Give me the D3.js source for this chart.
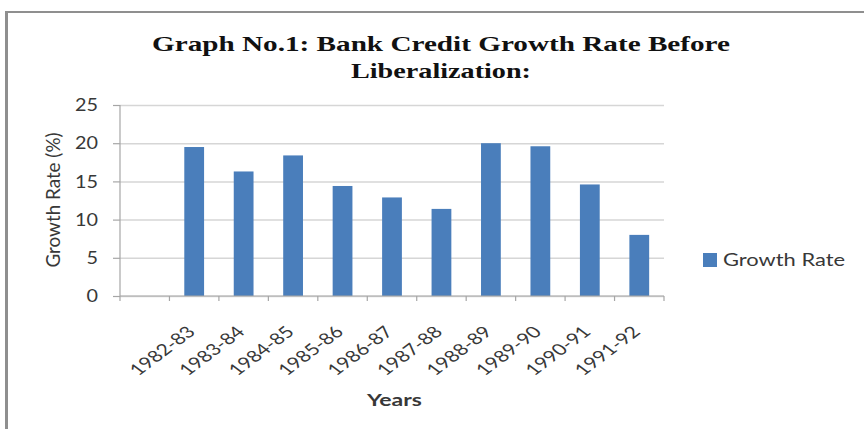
<!DOCTYPE html>
<html>
<head>
<meta charset="utf-8">
<script src="https://cdn.jsdelivr.net/npm/d3@7"></script>
<style>
  html, body { margin: 0; padding: 0; background: #fff; }
  svg { display: block; }
</style>
</head>
<body>
<svg id="chart" width="864" height="429"></svg>
<script>
// ---- data ----
const categories = ["", "1982-83", "1983-84", "1984-85", "1985-86", "1986-87", "1987-88", "1988-89", "1989-90", "1990-91", "1991-92"];
const growthRate = [null, 19.5, 16.3, 18.4, 14.4, 12.9, 11.4, 20.0, 19.6, 14.6, 8.0];
const yTickValues = [0, 5, 10, 15, 20, 25];
const seriesName = "Growth Rate";
const titleLines = ["Graph No.1: Bank Credit Growth Rate Before", "Liberalization:"];
const xTitle = "Years";
const yTitle = "Growth Rate (%)";

// ---- layout ----
const W = 864, H = 429;
const plot = { left: 120, right: 664, top: 105, bottom: 296 };
const SX = 1.33; // horizontal stretch of the original picture
const sans = "Lato, 'Open Sans', sans-serif";
const textCol = "#383838";

const svg = d3.select("#chart");

// frame
svg.append("line").attr("x1", 6.5).attr("x2", 6.5).attr("y1", 11).attr("y2", H)
  .attr("stroke", "#8f8f8f").attr("stroke-width", 3);
svg.append("line").attr("x1", 5).attr("x2", W).attr("y1", 12).attr("y2", 12)
  .attr("stroke", "#8f8f8f").attr("stroke-width", 2);

// scales
const x = d3.scaleBand().domain(categories.map((c, i) => i))
  .range([plot.left, plot.right]).paddingInner(0.6).paddingOuter(0.3);
const y = d3.scaleLinear().domain([0, 25]).range([plot.bottom, plot.top]);

// gridlines
const grid = svg.append("g").attr("transform", `translate(${plot.left},0)`)
  .call(d3.axisLeft(y).tickValues(yTickValues).tickSize(-(plot.right - plot.left)).tickFormat(""));
grid.select(".domain").remove();
grid.selectAll("line").attr("stroke", "#d6d6d6").attr("stroke-width", 1.5);

// y axis
const yAxis = svg.append("g").attr("transform", `translate(${plot.left},0)`)
  .call(d3.axisLeft(y).tickValues(yTickValues).tickSize(7).tickPadding(0).tickFormat(""));
yAxis.select(".domain").attr("stroke", "#a6a6a6").attr("stroke-width", 1.2).attr("d", `M0,${plot.top}V${plot.bottom}`);
yAxis.selectAll("line").attr("stroke", "#a6a6a6").attr("stroke-width", 1.2);

// y tick labels
svg.append("g").selectAll("text").data(yTickValues).join("text")
  .attr("x", 98).attr("y", d => y(d)).attr("dy", "0.36em")
  .attr("text-anchor", "end")
  .attr("font-family", sans).attr("font-size", 17).attr("fill", textCol)
  .attr("textLength", d => String(d).length * 11.5).attr("lengthAdjust", "spacingAndGlyphs")
  .text(d => d);

// bars
svg.append("g").selectAll("rect")
  .data(growthRate.map((v, i) => ({ i, v })).filter(d => d.v != null))
  .join("rect")
  .attr("x", d => x(d.i)).attr("width", x.bandwidth())
  .attr("y", d => y(d.v)).attr("height", d => y(0) - y(d.v))
  .attr("fill", "#4a7ebb");

// x axis
const step = x.step();
const boundaries = categories.map((c, i) => x(i) - step * 0.3).concat([plot.right]);
svg.append("line").attr("x1", plot.left).attr("x2", plot.right)
  .attr("y1", y(0)).attr("y2", y(0)).attr("stroke", "#a6a6a6").attr("stroke-width", 1.2);
svg.append("g").selectAll("line").data(boundaries).join("line")
  .attr("x1", d => d).attr("x2", d => d).attr("y1", y(0)).attr("y2", y(0) + 5)
  .attr("stroke", "#a6a6a6").attr("stroke-width", 1.2);

// x labels (rotated)
svg.append("g").selectAll("text").data(categories.map((c, i) => ({ c, i })).filter(d => d.c))
  .join("text")
  .attr("transform", d => `translate(${x(d.i) + x.bandwidth() / 2 - 3},${329}) scale(${SX},1) rotate(-45)`)
  .attr("text-anchor", "end").attr("dy", "0.35em")
  .attr("font-family", sans).attr("font-size", 16).attr("fill", textCol)
  .text(d => d.c);

// axis titles
svg.append("text")
  .attr("x", 394.5).attr("y", 406).attr("text-anchor", "middle")
  .attr("font-family", sans).attr("font-weight", "bold").attr("font-size", 17).attr("fill", textCol)
  .attr("textLength", 55).attr("lengthAdjust", "spacingAndGlyphs")
  .text(xTitle);

svg.append("text")
  .attr("transform", `translate(60,200) scale(${SX},1) rotate(-90)`)
  .attr("text-anchor", "middle")
  .attr("font-family", sans).attr("font-size", 15).attr("fill", textCol)
  .attr("textLength", 135).attr("lengthAdjust", "spacingAndGlyphs")
  .text(yTitle);

// title
const titleLens = [578, 180];
svg.append("g").selectAll("text").data(titleLines).join("text")
  .attr("x", 441).attr("y", (d, i) => 51 + i * 26.5).attr("text-anchor", "middle")
  .attr("font-family", "'Liberation Serif', 'Times New Roman', serif")
  .attr("font-weight", "bold").attr("font-size", 21).attr("fill", "#111")
  .attr("textLength", (d, i) => titleLens[i]).attr("lengthAdjust", "spacingAndGlyphs")
  .text(d => d);

// legend
const legend = svg.append("g");
legend.append("rect").attr("x", 703).attr("y", 253).attr("width", 14).attr("height", 14).attr("fill", "#4a7ebb");
legend.append("text").attr("x", 723).attr("y", 260).attr("dy", "0.36em")
  .attr("font-family", sans).attr("font-size", 17).attr("fill", textCol)
  .attr("textLength", 122).attr("lengthAdjust", "spacingAndGlyphs")
  .text(seriesName);
</script>
</body>
</html>
